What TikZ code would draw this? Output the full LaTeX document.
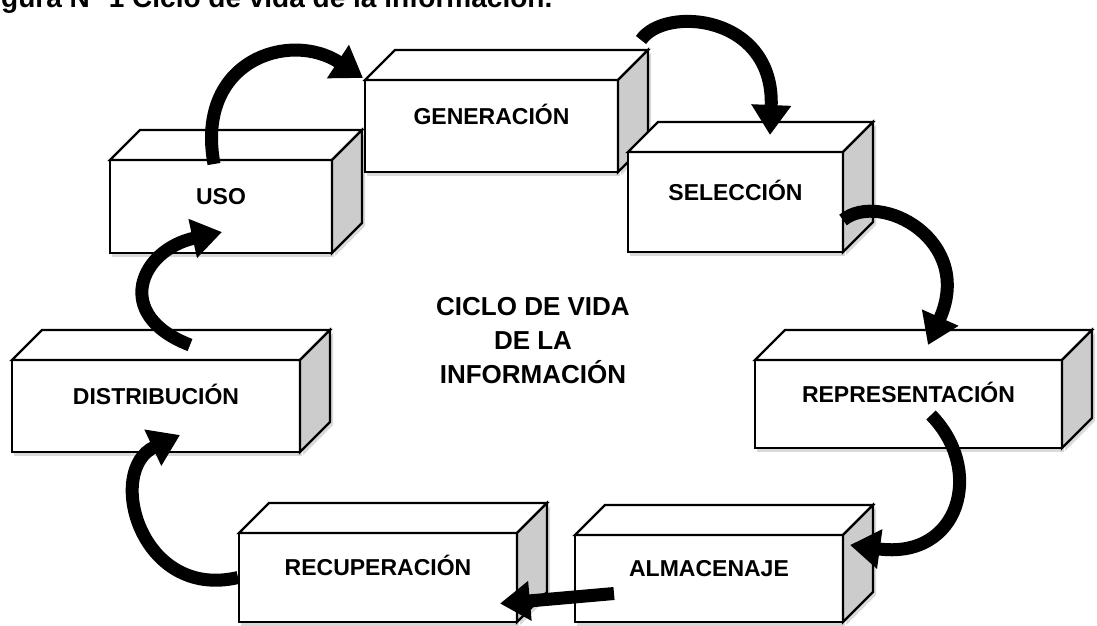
\documentclass[tikz,border=0pt]{standalone}
\usepackage{fontspec}
\setmainfont{Liberation Sans}
\usetikzlibrary{arrows.meta,calc,shadows}

% top and side face of a box whose front is node #1
\newcommand{\caja}[1]{%
  \draw[cara] (#1.north west) -- ++(30,-30) -- ($(#1.north east)+(30,-30)$) -- (#1.north east) -- cycle;
  \draw[lado] (#1.north east) -- ++(30,-30) -- ($(#1.south east)+(30,-30)$) -- (#1.south east) -- cycle;
}

\begin{document}
\begin{tikzpicture}
  \tikzset{x={(1pt,0pt)}, y={(0pt,-1pt)}}
  \tikzset{
    frente/.style={draw, line width=2.2pt, fill=white, outer sep=0pt, inner sep=0pt,
      text height=16pt, text depth=20pt, font=\fontsize{23}{27}\selectfont\bfseries,
      drop shadow={opacity=0.3, shadow xshift=2pt, shadow yshift=-4pt}},
    cara/.style={draw, line width=2.2pt, fill=white},
    lado/.style={cara, fill=black!20,
      drop shadow={opacity=0.3, shadow xshift=3pt, shadow yshift=-3pt}},
    flecha/.style={line width=13pt, -{Triangle[width=38pt,length=30pt]}}
  }
  \clip (0,0) rectangle (1097,625);

  % title, cut at the top
  \node[anchor=base west, inner sep=0pt, font=\fontsize{28}{32}\selectfont\bfseries] (titulo) at (1,7)
    {gura N° 1 Ciclo de vida de la información.};

  % boxes
  \node[frente, minimum width=222, minimum height=93] (uso) at (221,206.5) {USO};
  \caja{uso}
  \node[frente, minimum width=253, minimum height=92] (gen) at (491.5,126) {GENERACIÓN};
  \caja{gen}
  \node[frente, minimum width=215, minimum height=100] (sel) at (735.5,202) {SELECCIÓN};
  \caja{sel}
  \node[frente, minimum width=307, minimum height=88] (rep) at (908.5,404) {REPRESENTACIÓN};
  \caja{rep}
  \node[frente, minimum width=268, minimum height=87] (alm) at (709,578.5) {ALMACENAJE};
  \caja{alm}
  \node[frente, minimum width=278, minimum height=89] (rec) at (378,577.5) {RECUPERACIÓN};
  \caja{rec}
  \node[frente, minimum width=288, minimum height=92] (dis) at (156,406) {DISTRIBUCIÓN};
  \caja{dis}

  \node[font=\fontsize{26}{34}\selectfont\bfseries, align=center] (ciclo) at (533,341)
    {CICLO DE VIDA\\DE LA\\INFORMACIÓN};

  % arrows
  \draw[flecha] ($(uso.north)+(-7,4)$) .. controls +(-19,-104) and +(-73,-48) .. ($(gen.north west)+(-2,-2)$);
  \draw[flecha] ($(gen.north east)+(23,-40)$) .. controls +(24,-35) and +(5,-120) .. ($(sel.north)+(34.5,-17)$);
  \draw[flecha] ($(sel.east)+(0,18)$) .. controls +(37,-30) and +(47,-105) .. ($(rep.north)+(19.5,-15)$);
  \draw[flecha] ($(rep.center)+(22.5,11)$) .. controls +(54,55) and +(110,15) .. ($(alm.east)+(7,-33.5)$);
  \draw[flecha] ($(alm.west)+(39,15)$) -- ($(rec.east)+(-17,26)$);
  \draw[flecha] ($(rec.west)+(-1,0)$) .. controls +(-98,23) and +(-75,35) .. ($(dis.south)+(24,-17)$);
  \draw[flecha] ($(dis.north)+(34,-15)$) .. controls +(-78,-30) and +(-82,18) .. ($(uso.south)+(1,-21)$);
\end{tikzpicture}
\end{document}
